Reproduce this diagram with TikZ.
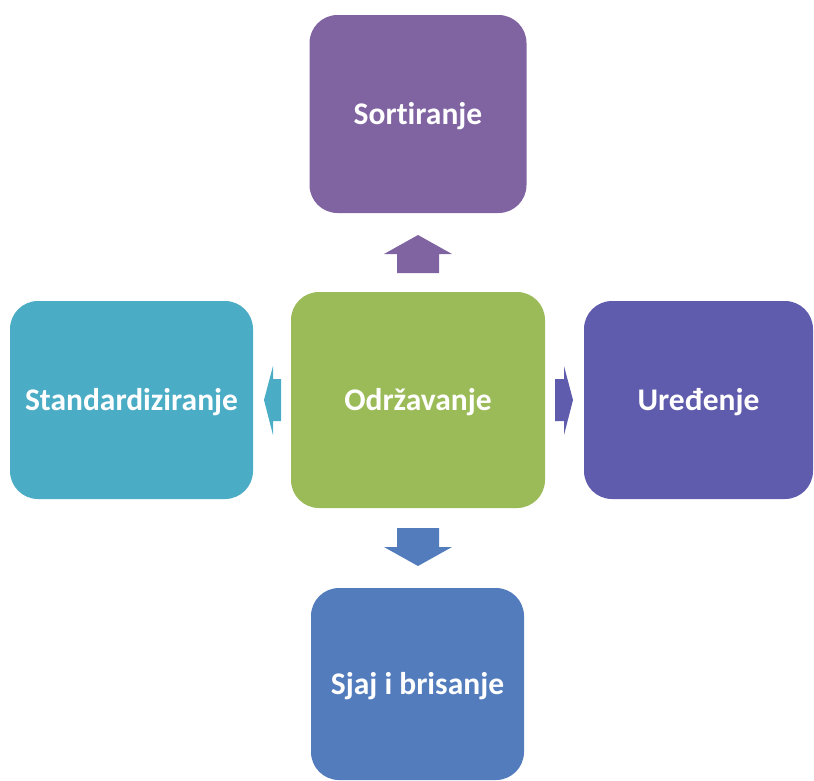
\documentclass[tikz,border=0pt]{standalone}
\usepackage{fontspec}
\setmainfont{Carlito}[Ligatures=NoCommon]

\definecolor{sortcol}{HTML}{8064A2}
\definecolor{standcol}{HTML}{4BACC6}
\definecolor{odrzcol}{HTML}{9BBB59}
\definecolor{uredcol}{HTML}{5F5BAD}
\definecolor{sjajcol}{HTML}{537CBD}

\tikzset{
    stepbox/.style={rectangle, rounded corners=28, inner sep=0pt, text=white,
        text height=20pt, text depth=0pt,
        font=\fontsize{31.5}{36}\selectfont\bfseries},
}

\begin{document}
\begin{tikzpicture}[x=1pt, y=-1pt]
            \useasboundingbox (0, 0) rectangle (814, 780);

            \node[stepbox, fill=odrzcol, minimum width=254, minimum height=216] (odrz) at (418, 400) {Održavanje};
            \node[stepbox, fill=sortcol, minimum width=217, minimum height=198] (sort) at (418, 114) {Sortiranje};
            \node[stepbox, fill=standcol, minimum width=243, minimum height=198] (stand) at (131.5, 400) {Standardiziranje};
            \node[stepbox, fill=uredcol, minimum width=229, minimum height=198] (ured) at (698.5, 400) {Uređenje};
            \node[stepbox, fill=sjajcol, minimum width=213, minimum height=192] (sjaj) at (417.5, 684) {Sjaj i brisanje};

            % up
            \fill[sortcol] (397, 273) -- (397, 254) -- (384, 254) -- (418, 235)
                -- (452, 254) -- (439, 254) -- (439, 273) -- cycle;
            % down
            \fill[sjajcol] (397, 528) -- (397, 547) -- (384, 547) -- (418, 566)
                -- (452, 547) -- (439, 547) -- (439, 528) -- cycle;
            % left
            \fill[standcol] (281, 379) -- (273, 379) -- (273, 366) -- (264, 400)
                -- (273, 435) -- (273, 421) -- (281, 421) -- cycle;
            % right
            \fill[uredcol] (555, 379) -- (564, 379) -- (564, 366) -- (573, 400)
                -- (564, 435) -- (564, 421) -- (555, 421) -- cycle;
\end{tikzpicture}
\end{document}
